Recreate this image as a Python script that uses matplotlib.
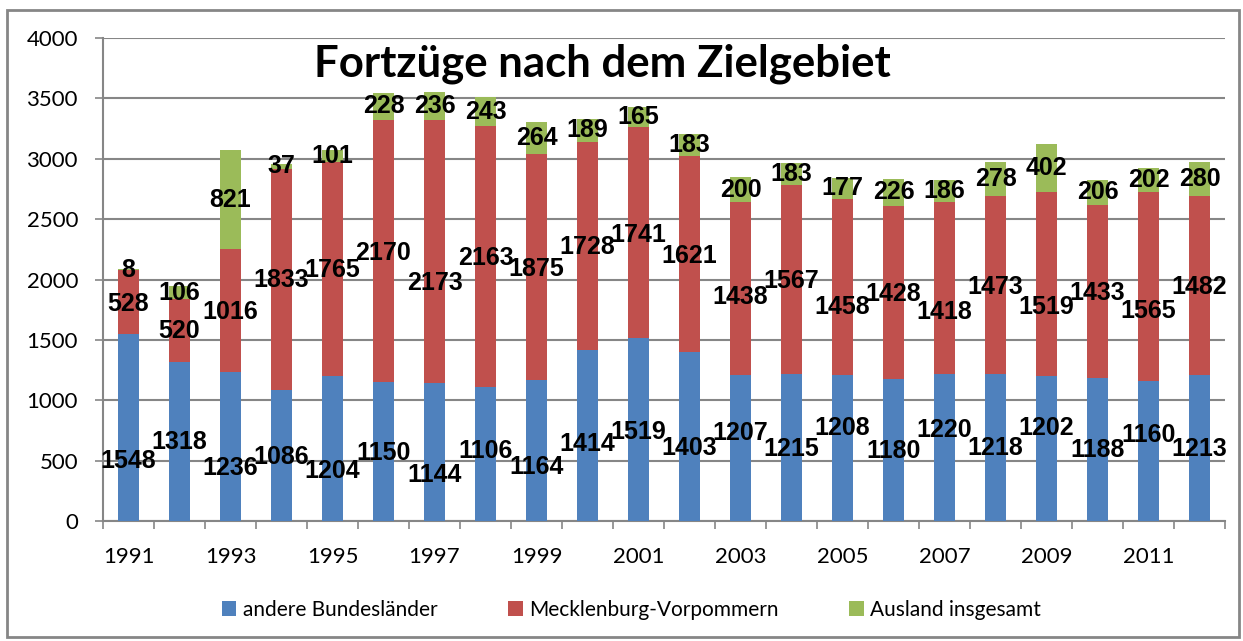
import numpy as np
import matplotlib
matplotlib.use('Agg')
import matplotlib.pyplot as plt
from matplotlib.patches import Rectangle


years = list(range(1991, 2013))
andere_bundeslaender = [1548, 1318, 1236, 1086, 1204, 1150, 1144, 1106, 1164, 1414, 1519,
                        1403, 1207, 1215, 1208, 1180, 1220, 1218, 1202, 1188, 1160, 1213]
mecklenburg_vorpommern = [528, 520, 1016, 1833, 1765, 2170, 2173, 2163, 1875, 1728, 1741,
                          1621, 1438, 1567, 1458, 1428, 1418, 1473, 1519, 1433, 1565, 1482]
ausland = [8, 106, 821, 37, 101, 228, 236, 243, 264, 189, 165,
           183, 200, 183, 177, 226, 186, 278, 402, 206, 202, 280]
series_names = ['andere Bundesländer', 'Mecklenburg-Vorpommern', 'Ausland insgesamt']
title = 'Fortzüge nach dem Zielgebiet'

# label heights (data units) as they were dragged around in the original
blue_label_y = [500, 652, 436, 527, 417, 561, 381, 582, 445, 638, 740,
                602, 726, 594, 768, 582, 754, 602, 768, 588, 712, 594]
red_label_y = [1797, 1576, 1734, 1996, 2079, 2222, 1974, 2181, 2084, 2272, 2369,
               2197, 1858, 1988, 1775, 1880, 1728, 1941, 1775, 1891, 1742, 1941]

BLUE = '#4F81BD'
RED = '#C0504D'
GREEN = '#9BBB59'
GRID = '#868686'


def main():
    fig = plt.figure(figsize=(12.43, 6.41), dpi=100)
    ax = fig.add_axes([103 / 1243, 1 - 521 / 641, 1122 / 1243, 483 / 641])

    x = np.arange(len(years))
    blue = np.array(andere_bundeslaender)
    red = np.array(mecklenburg_vorpommern)
    green = np.array(ausland)
    w = 0.40

    ax.bar(x, blue, w, color=BLUE, label=series_names[0], zorder=3)
    ax.bar(x, red, w, bottom=blue, color=RED, label=series_names[1], zorder=3)
    ax.bar(x, green, w, bottom=blue + red, color=GREEN, label=series_names[2], zorder=3)

    lab = dict(ha='center', va='center', fontsize=18, fontweight='bold',
               family=['Liberation Sans Narrow', 'Liberation Sans', 'DejaVu Sans'],
               color='black', zorder=5)
    for i in x:
        ax.text(i, blue_label_y[i], str(blue[i]), **lab)
        ax.text(i, red_label_y[i], str(red[i]), **lab)
        ax.text(i, blue[i] + red[i] + green[i] / 2, str(green[i]), **lab)

    ax.set_xlim(-0.5, len(years) - 0.5)
    ax.set_ylim(0, 4000)
    ax.set_yticks(range(0, 4001, 500))
    ax.yaxis.grid(True, color=GRID, linewidth=1.5, zorder=0)
    ax.set_axisbelow(True)

    ax.set_xticks(x[::2])
    ax.set_xticklabels([str(y) for y in years[::2]])
    ax.set_xticks(np.arange(-0.5, len(years), 1), minor=True)
    ax.tick_params(axis='x', which='major', length=0, pad=19)
    ax.tick_params(axis='x', which='minor', length=6, width=1.2, color=GRID)
    ax.tick_params(axis='y', length=6, width=1.2, color=GRID, pad=12)
    for t in ax.get_xticklabels() + ax.get_yticklabels():
        t.set_family(['Lato', 'DejaVu Sans'])
        t.set_fontsize(16)

    for s in ['top', 'right']:
        ax.spines[s].set_visible(False)
    for s in ['left', 'bottom']:
        ax.spines[s].set_color(GRID)
        ax.spines[s].set_linewidth(1.5)

    ax.text(0.445, 1 - (77 - 38) / 483, title, transform=ax.transAxes, ha='center',
            va='baseline', fontsize=31.5, fontweight='bold', family=['Lato', 'DejaVu Sans'])

    fig.legend(loc='center', bbox_to_anchor=(0.508, 1 - 610 / 641), ncol=3,
               frameon=False, handlelength=0.7, handleheight=0.7,
               handletextpad=0.3, columnspacing=3.4,
               prop={'family': ['Lato', 'DejaVu Sans'], 'size': 15})

    fig.patches.append(Rectangle((7 / 1243, 4 / 641), 1232 / 1243, 627 / 641,
                                 transform=fig.transFigure, fill=False,
                                 edgecolor=GRID, linewidth=2))

    fig.savefig('out.png', dpi=100)


if __name__ == '__main__':
    main()
